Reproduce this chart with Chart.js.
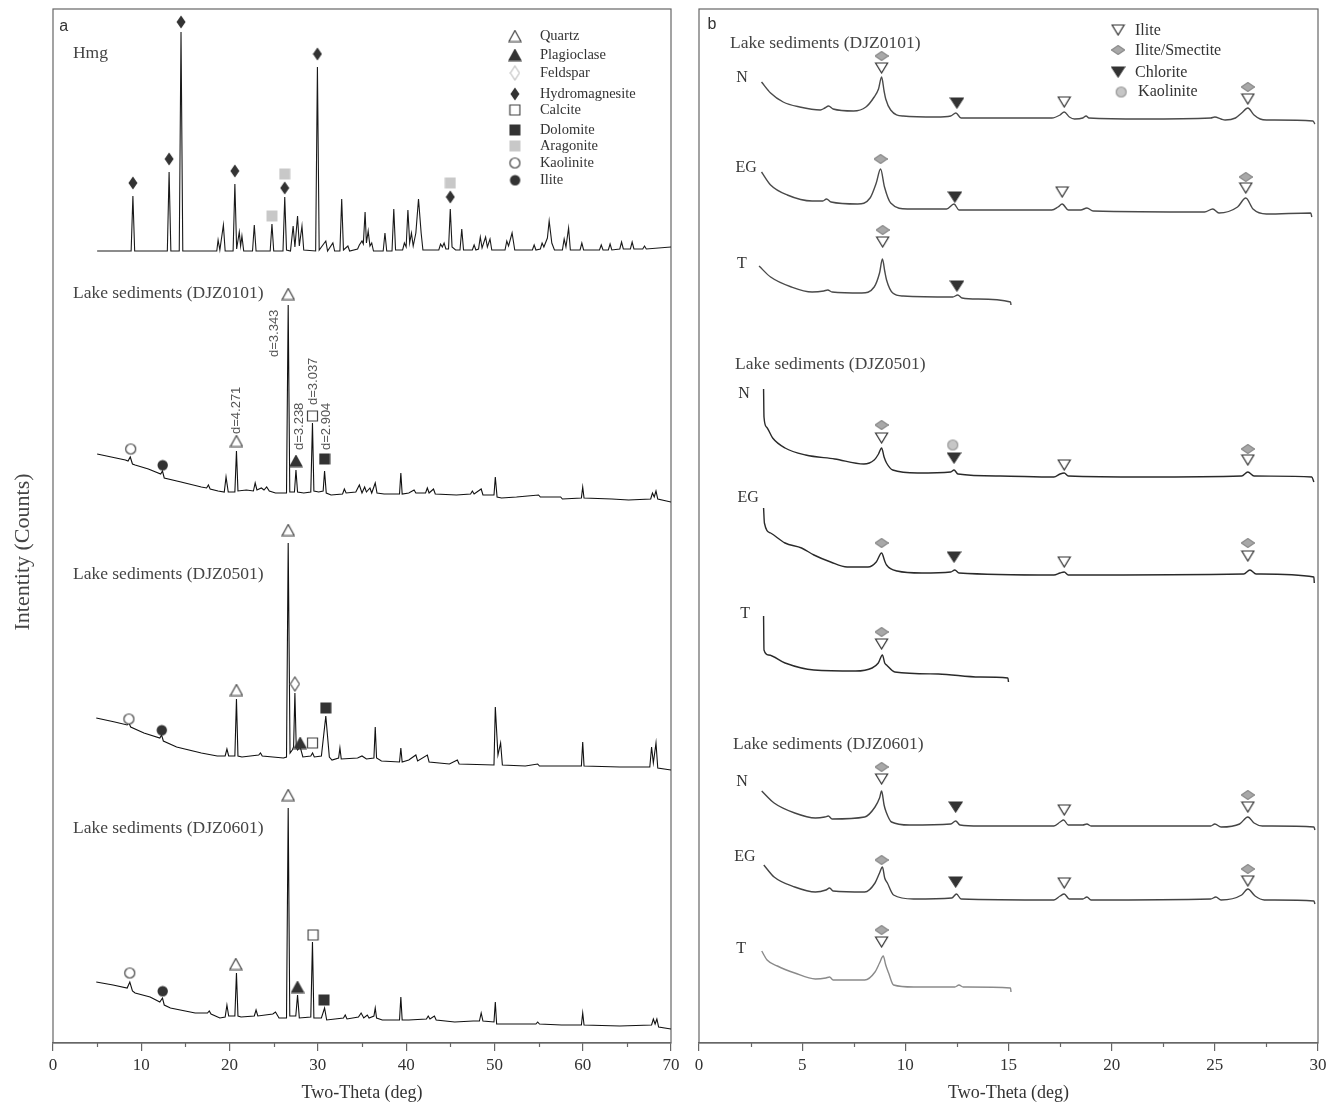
<!DOCTYPE html>
<html>
<head>
<meta charset="utf-8">
<script src="https://cdn.jsdelivr.net/npm/chart.js@4.4.1/dist/chart.umd.min.js"></script>
<style>
    body { margin: 0; background: #fff; }
    #wrapA { position: absolute; left: 0; top: 0; width: 690px; height: 1106px; }
    #wrapB { position: absolute; left: 690px; top: 0; width: 648px; height: 1106px; }
</style>
</head>
<body>
<div id="wrapA"><canvas id="chartA"></canvas></div>
<div id="wrapB"><canvas id="chartB"></canvas></div>
<script>
// ---- Panel a: bulk XRD patterns, [2-theta (deg), stacked intensity] ----
var hmgPattern = [[5,792],[8.85,792],[9.05,847],[9.25,792],[12.95,792],[13.15,871],[13.35,792],
    [14.3,792],[14.5,1011],[14.7,792],[18.55,792],[18.7,803],[18.9,793],[19.3,818],[19.5,792],
    [20.4,792],[20.6,859],[20.8,794],[21.1,811],[21.25,797],[21.4,807],[21.6,792],[22.6,792],[22.8,818],[23.0,792],
    [24.6,792],[24.8,819],[25.0,792],[26.05,792],[26.25,846],[26.45,793],[26.9,792],[27.2,817],[27.4,796],
    [27.7,827],[27.9,797],[28.2,817],[28.4,793],[29.75,792],[29.95,976],[30.15,793],[30.9,802],[31.1,792],
    [31.7,800],[31.9,792],[32.5,792],[32.7,844],[32.9,793],[33.4,797],[33.6,792],[34.5,794],[34.7,798],
    [35.0,802],[35.15,799],[35.35,831],[35.5,800],[35.7,812],[35.9,797],[36.1,800],[36.3,792],[37.4,792],
    [37.6,810],[37.8,792],[38.4,792],[38.6,834],[38.8,793],[39.6,793],[39.8,800],[40.0,796],[40.2,833],
    [40.4,800],[40.6,810],[40.8,797],[41.1,810],[41.4,844],[41.7,810],[41.9,793],[43.7,793],[43.9,799],
    [44.1,796],[44.3,800],[44.5,794],[44.8,794],[45.0,834],[45.2,796],[45.6,793],[46.1,793],[46.3,814],
    [46.5,793],[47.5,793],[47.7,798],[47.9,793],[48.2,794],[48.4,806],[48.6,795],[49.0,806],[49.2,796],
    [49.5,804],[49.7,793],[51.2,793],[51.4,802],[51.6,797],[52.0,810],[52.3,793],[54.3,793],[54.5,798],
    [54.7,793],[55.2,794],[55.4,800],[55.6,796],[56.0,805],[56.2,822],[56.5,800],[56.8,793],[57.7,793],
    [57.9,804],[58.1,796],[58.4,815],[58.6,793],[59.7,793],[59.9,800],[60.1,793],[61.9,793],[62.1,798],
    [62.3,793],[62.9,793],[63.1,799],[63.3,793],[64.2,794],[64.4,801],[64.6,794],[65.4,794],[65.6,801],
    [65.8,794],[66.8,794],[67.0,797],[67.2,794],[70,796]];

var djz0101Bulk = [[5.0,589],[6.6,586],[8.2,583],[8.5,582],[8.75,586],[9.0,579],[9.3,578],[10.8,574],
    [12.2,569],[12.4,572],[12.6,565],[14.5,561],[16.8,556],[17.4,555],[17.6,558],[17.8,554],[18.7,552],
    [19.4,551],[19.6,566],[19.85,551],[20.6,551],[20.78,592],[20.95,552],[21.9,553],[22.7,552],[22.9,560],
    [23.1,553],[23.6,555],[23.9,553],[24.2,556],[24.5,552],[25.2,550],[26.45,550],[26.64,738],[26.82,551],
    [27.35,551],[27.52,573],[27.7,551],[28.4,550],[29.2,551],[29.39,620],[29.55,552],[30.1,551],[30.6,552],
    [30.76,572],[30.95,550],[31.5,548],[32.8,549],[33.0,554],[33.2,550],[34.3,551],[34.7,558],[35.0,550],
    [35.3,556],[35.5,551],[35.9,555],[36.1,550],[36.5,560],[36.7,550],[37.5,549],[39.25,549],[39.4,570],
    [39.55,549],[40.3,550],[40.9,553],[41.1,550],[42.2,550],[42.4,555],[42.6,550],[43.1,554],[43.3,549],
    [45.7,548],[47.3,549],[47.5,552],[47.7,549],[48.5,554],[48.7,548],[49.95,548],[50.1,566],[50.3,546],
    [50.8,545],[52.5,546],[55.0,548],[55.2,546],[57.5,546],[57.7,544],[59.85,545],[60.0,556],[60.15,545],
    [63.3,544],[65.2,543],[67.7,544],[67.9,550],[68.1,546],[68.3,552],[68.5,544],[70,541]];

var djz0501Bulk = [[4.9,325],[7.0,321],[8.4,318],[8.6,320],[8.8,316],[10.3,310],[12.1,305],[12.3,308],
    [12.5,302],[14.0,296],[16.8,290],[18.6,287],[19.5,287],[19.7,294],[19.9,287],[20.6,287],[20.78,344],
    [20.95,287],[21.4,286],[23.3,288],[23.5,290],[23.7,287],[26.1,285],[26.45,286],[26.64,500],[26.85,290],
    [27.1,293],[27.25,296],[27.4,350],[27.55,296],[27.7,293],[28.0,296],[28.3,286],[29.2,287],[29.4,290],
    [29.6,286],[30.4,287],[30.9,327],[31.3,286],[31.6,283],[32.35,285],[32.5,295],[32.65,284],[34.5,285],
    [35.0,287],[35.5,284],[36.35,285],[36.5,316],[36.65,285],[37.2,282],[39.25,281],[39.4,295],[39.55,281],
    [40.3,283],[41.1,288],[41.3,282],[42.4,288],[42.6,281],[44.9,279],[45.8,283],[46.0,279],[49.95,278],
    [50.1,336],[50.4,288],[50.7,300],[50.9,278],[53.5,277],[54.9,279],[55.1,277],[59.85,277],[60.0,301],
    [60.15,277],[64.2,276],[67.6,276],[67.8,296],[68.0,280],[68.3,300],[68.5,275],[70,273]];

var djz0601Bulk = [[4.9,61],[6.8,58],[8.4,55],[8.7,61],[9.0,52],[9.3,50],[11.0,46],[12.1,41],[12.4,45],
    [12.6,38],[13.3,35],[16.1,30],[17.5,30],[17.7,32],[17.9,29],[18.9,25],[19.5,26],[19.7,38],[19.9,27],
    [20.6,27],[20.78,70],[20.95,27],[21.3,26],[22.8,27],[23.0,33],[23.2,27],[24.9,29],[25.2,31],[25.6,25],
    [26.45,25],[26.64,235],[26.82,27],[27.5,27],[27.7,48],[27.9,25],[29.2,26],[29.39,101],[29.55,25],
    [30.4,25],[30.76,35],[31.0,23],[32.9,25],[33.1,28],[33.3,24],[34.6,26],[34.9,30],[35.2,25],[35.6,28],
    [35.8,25],[36.35,27],[36.5,35],[36.65,25],[37.3,23],[39.25,23],[39.4,46],[39.55,23],[40.3,23],[42.3,24],
    [42.5,27],[42.7,24],[43.2,27],[43.4,23],[45.5,21],[47.6,22],[48.3,22],[48.5,30],[48.7,22],[49.95,21],
    [50.1,41],[50.25,19],[54.7,19],[54.9,21],[55.1,19],[57.6,18],[59.85,18],[60.0,30],[60.15,18],[64.2,17],
    [67.8,18],[68.0,24],[68.2,19],[68.4,24],[68.6,16],[70,14]];

// Panel a phase markers [2-theta, level]
var quartzMarks = [[20.78,602],[26.64,749],[20.78,353],[26.64,513],[20.7,79],[26.64,248]];
var plagioclaseMarks = [[27.52,582],[28.0,300],[27.7,56]];
var feldsparMarks = [[27.4,359]];
var hydromagnesiteMarks = [[9.05,860],[13.15,884],[14.5,1021],[20.6,872],[26.25,855],[29.95,989],[45.0,846]];
var calciteMarks = [[29.39,627],[29.4,300],[29.45,108]];
var dolomiteMarks = [[30.76,584],[30.9,335],[30.7,43]];
var aragoniteMarks = [[24.8,827],[26.25,869],[45.0,860]];
var kaoliniteMarks = [[8.8,594],[8.6,324],[8.7,70]];
var iliteMarks = [[12.4,578],[12.3,313],[12.4,52]];

// ---- Panel b: clay fraction patterns (N, EG, T) ----
var clay0101N = [[3.03,961],[3.47,950],[4.08,941],[4.88,936],[5.88,933],[6.1,935],[6.28,937],[6.5,934],
    [7.49,932],[8.09,936],[8.49,946],[8.7,954],[8.85,966],[8.97,952],[9.05,944],[9.29,933],[9.89,927],
    [11.5,926],[12.2,927],[12.45,930],[12.7,925],[13.5,925],[17.1,925],[17.5,928],[17.7,931],[17.95,926],
    [18.2,924],[18.6,925],[18.76,927],[18.9,925],[21.5,924],[24.8,925],[25.0,926],[25.3,924],[25.5,923],
    [26.0,925],[26.3,930],[26.6,935],[26.9,928],[27.2,924],[27.5,923],[29.75,922],[29.85,919]];
var clay0101EG = [[3.03,871],[3.47,858],[4.28,848],[5.48,842],[6.0,842],[6.18,844],[6.4,841],[7.69,839],
    [8.29,845],[8.59,860],[8.8,874],[8.99,856],[9.29,840],[10.1,834],[12.0,834],[12.36,839],[12.6,833],
    [17.1,833],[17.4,836],[17.6,839],[17.9,833],[18.5,833],[18.8,835],[19.1,832],[24.5,831],[24.9,834],
    [25.2,830],[26.1,836],[26.5,845],[26.85,834],[27.5,829],[29.65,830],[29.7,826]];
var clay0101T = [[2.91,777],[3.47,766],[4.48,756],[5.48,751],[6.05,752],[6.24,753],[6.45,751],[7.89,750],
    [8.49,756],[8.75,770],[8.89,784],[9.0,772],[9.09,763],[9.39,750],[9.89,747],[12.3,746],[12.54,748],
    [12.75,745],[13.5,744],[15.1,741],[15.12,738]];
var clay0501N = [[3.13,654],[3.15,626],[3.27,616],[3.57,605],[4.17,595],[5.17,588],[6.58,584],[7.99,579],
    [8.49,583],[8.7,589],[8.85,595],[8.97,586],[9.09,580],[9.39,573],[10.6,570],[12.2,571],[12.36,573],
    [12.55,569],[14.6,567],[17.2,566],[17.5,569],[17.7,570],[17.9,567],[21.6,566],[26.3,567],[26.6,571],
    [26.9,567],[29.7,566],[29.8,561]];
var clay0501EG = [[3.13,535],[3.17,520],[3.47,510],[4.17,500],[4.97,495],[5.57,488],[6.38,481],[7.18,476],
    [8.19,476],[8.59,481],[8.85,490],[9.0,482],[9.09,478],[9.6,472],[10.8,470],[12.2,471],[12.4,473],
    [12.6,470],[17.2,468],[17.5,470],[17.7,471],[17.9,468],[26.4,469],[26.7,473],[27.0,469],[29.8,466],[29.82,460]];
var clay0501T = [[3.13,427],[3.15,393],[3.37,388],[4.17,380],[5.57,373],[7.58,372],[8.39,375],[8.69,380],
    [8.89,388],[9.0,380],[9.09,378],[9.49,371],[11.6,369],[13.6,366],[14.97,365],[15.0,361]];
var clay0601N = [[3.04,252],[3.64,240],[4.64,230],[5.64,225],[6.1,226],[6.27,227],[6.45,224],[8.03,226],
    [8.53,236],[8.75,245],[8.85,252],[8.97,238],[9.07,231],[9.33,221],[10.2,218],[12.2,219],[12.44,222],
    [12.65,218],[13.6,217],[17.2,217],[17.5,221],[17.67,223],[17.9,218],[18.6,218],[18.8,219],[19.0,217],
    [24.8,217],[25.0,219],[25.3,216],[26.2,219],[26.6,226],[26.9,220],[27.3,217],[29.8,216],[29.85,213]];
var clay0601EG = [[3.14,178],[3.64,166],[4.64,156],[5.64,151],[6.15,153],[6.33,155],[6.5,152],[8.03,151],
    [8.53,160],[8.75,170],[8.89,176],[9.0,165],[9.13,160],[9.43,148],[10.4,144],[12.25,145],[12.48,149],
    [12.7,144],[17.2,143],[17.5,147],[17.7,149],[17.95,144],[18.6,144],[18.8,146],[19.0,143],[24.8,144],
    [25.05,146],[25.3,143],[26.3,148],[26.6,154],[26.95,147],[27.4,143],[29.8,142],[29.85,139]];
var clay0601T = [[3.04,92],[3.3,83],[3.8,77],[4.64,70],[5.64,64],[6.15,65],[6.33,66],[6.5,63],[8.03,63],
    [8.53,71],[8.75,80],[8.93,87],[9.05,78],[9.19,70],[9.43,58],[10.4,56],[12.4,56],[12.6,58],[12.8,56],
    [15.1,55],[15.12,51]];

// Panel b markers
var clayIliteMarks = [[8.85,975],[17.7,941],[26.6,944],[17.6,851],[26.5,855],[8.9,801],[8.85,605],[17.7,578],
    [26.6,583],[17.7,481],[26.6,487],[8.85,399],[8.85,264],[17.7,233],[26.6,236],[17.7,160],[26.6,162],[8.85,101]];
var clayIsMarks = [[8.85,987],[26.6,956],[8.8,884],[26.5,866],[8.9,813],[8.85,618],[26.6,594],[8.85,500],
    [26.6,500],[8.85,411],[8.85,276],[26.6,248],[8.85,183],[26.6,174],[8.85,113]];
var clayChloriteMarks = [[12.5,940],[12.4,846],[12.5,757],[12.36,585],[12.36,486],[12.44,236],[12.44,161]];
var clayKaoliniteMarks = [[12.3,598]];

// Tick labels
var ticksA = [0, 10, 20, 30, 40, 50, 60, 70];
var minorA = [5, 15, 25, 35, 45, 55, 65];
var ticksB = [0, 5, 10, 15, 20, 25, 30];
var minorB = [2.5, 7.5, 12.5, 17.5, 22.5, 27.5];

var legendA = ['Quartz', 'Plagioclase', 'Feldspar', 'Hydromagnesite', 'Calcite', 'Dolomite', 'Aragonite', 'Kaolinite', 'Ilite'];
var legendB = ['Ilite', 'Ilite/Smectite', 'Chlorite', 'Kaolinite'];

var SERIF = '"Liberation Serif", "Times New Roman", serif';

// Marker glyphs drawn on small canvases
function makeMark(w, h, draw) {
    var c = document.createElement('canvas');
    c.width = w;
    c.height = h;
    var g = c.getContext('2d');
    g.lineWidth = 1.2;
    draw(g);
    return c;
}
function poly(pts, fill, stroke) {
    return function(g) {
        g.beginPath();
        g.moveTo(pts[0][0], pts[0][1]);
        for (var i = 1; i < pts.length; i++) g.lineTo(pts[i][0], pts[i][1]);
        g.closePath();
        if (fill) { g.fillStyle = fill; g.fill(); }
        if (stroke) { g.strokeStyle = stroke; g.stroke(); }
    };
}
function circ(r, fill, stroke) {
    return function(g) {
        g.beginPath();
        g.arc(r + 1.5, r + 1.5, r, 0, Math.PI * 2);
        if (fill) { g.fillStyle = fill; g.fill(); }
        if (stroke) { g.strokeStyle = stroke; g.stroke(); }
    };
}
var M = {
    triUp: makeMark(14, 13, poly([[7,1],[13,12],[1,12]], '#fff', '#444')),
    triUpFill: makeMark(14, 13, poly([[7,1],[13,12],[1,12]], '#333', '#333')),
    diaOpen: makeMark(11, 16, poly([[5.5,1],[10,8],[5.5,15],[1,8]], '#fff', '#555')),
    diaLight: makeMark(11, 16, poly([[5.5,1],[10,8],[5.5,15],[1,8]], '#fff', '#c4c4c4')),
    diaFill: makeMark(10, 14, poly([[5,0.5],[9.5,7],[5,13.5],[0.5,7]], '#333', null)),
    sqOpen: makeMark(13, 13, poly([[1.5,1.5],[11.5,1.5],[11.5,11.5],[1.5,11.5]], '#fff', '#444')),
    sqFill: makeMark(12, 12, poly([[0.5,0.5],[11.5,0.5],[11.5,11.5],[0.5,11.5]], '#333', null)),
    sqGray: makeMark(12, 12, poly([[0.5,0.5],[11.5,0.5],[11.5,11.5],[0.5,11.5]], '#c8c8c8', null)),
    circOpen: makeMark(13, 13, circ(5, '#fff', '#444')),
    circFill: makeMark(13, 13, circ(5.2, '#333', null)),
    triDown: makeMark(15, 12, poly([[1.5,1],[13.5,1],[7.5,11]], '#fff', '#333')),
    triDownFill: makeMark(15, 12, poly([[1,1],[14,1],[7.5,11]], '#333', '#333')),
    isDia: makeMark(14, 10, poly([[7,0.5],[13.5,5],[7,9.5],[0.5,5]], '#a8a8a8', '#8c8c8c')),
    kaolB: makeMark(13, 13, circ(5, '#c6c6c6', '#999'))
};

function xy(arr) {
    return arr.map(function(p) { return { x: p[0], y: p[1] }; });
}
function trace(arr, color, width, smooth) {
    return {
        type: 'line', data: xy(arr), borderColor: color, borderWidth: width,
        pointRadius: 0, fill: false, tension: 0, order: 2,
        cubicInterpolationMode: smooth ? 'monotone' : 'default'
    };
}
function marks(arr, glyph) {
    return { type: 'scatter', data: xy(arr), pointStyle: glyph, pointRadius: 5, order: 1 };
}

// Frame, minor ticks and free text
var decorPlugin = {
    id: 'decor',
    beforeDatasetsDraw: function(chart, args, opts) {
        var a = chart.chartArea, ctx = chart.ctx, xs = chart.scales.x;
        ctx.save();
        ctx.strokeStyle = '#666';
        ctx.lineWidth = 1.2;
        ctx.strokeRect(a.left, a.top, a.right - a.left, a.bottom - a.top);
        opts.minor.forEach(function(v) {
            var px = Math.round(xs.getPixelForValue(v)) + 0.5;
            ctx.beginPath();
            ctx.moveTo(px, a.bottom);
            ctx.lineTo(px, a.bottom + 4);
            ctx.stroke();
        });
        ctx.restore();
    },
    afterDatasetsDraw: function(chart, args, opts) {
        var ctx = chart.ctx, xs = chart.scales.x, ys = chart.scales.y;
        opts.texts.forEach(function(t) {
            ctx.save();
            ctx.font = t.font;
            ctx.fillStyle = t.color || '#333';
            ctx.textAlign = t.align || 'left';
            ctx.textBaseline = 'middle';
            var px = t.pixel ? t.x : xs.getPixelForValue(t.x);
            var py = t.pixel ? t.y : ys.getPixelForValue(t.y);
            ctx.translate(px, py);
            if (t.rotate) ctx.rotate(-Math.PI / 2);
            ctx.fillText(t.text, 0, 0);
            ctx.restore();
        });
    }
};

function xAxis(max, ticks) {
    return {
        type: 'linear', min: 0, max: max,
        afterBuildTicks: function(axis) { axis.ticks = ticks.map(function(v) { return { value: v }; }); },
        afterFit: function(axis) { axis.height = 63; },
        grid: { drawOnChartArea: false, drawTicks: true, tickLength: 8, color: '#666', lineWidth: 1.2 },
        border: { display: true, color: '#666', width: 1.2 },
        ticks: { color: '#333', font: { family: SERIF, size: 17 }, padding: 4, maxRotation: 0, autoSkip: false },
        title: { display: true, text: 'Two-Theta (deg)', color: '#333', font: { family: SERIF, size: 18 }, padding: { top: 0, bottom: 2 } }
    };
}

var labelFont = '17.5px ' + SERIF;
var textsA = [
    { text: 'a', x: 1.2, y: 1016, font: '16px "Liberation Sans", Arial, sans-serif', align: 'center' },
    { text: 'Hmg', x: 2.26, y: 990, font: labelFont, color: '#444' },
    { text: 'Lake sediments (DJZ0101)', x: 2.26, y: 750, font: labelFont, color: '#444' },
    { text: 'Lake sediments (DJZ0501)', x: 2.26, y: 469, font: labelFont, color: '#444' },
    { text: 'Lake sediments (DJZ0601)', x: 2.26, y: 215, font: labelFont, color: '#444' },
    { text: 'Intentity (Counts)', x: 23, y: 552, pixel: true, rotate: true, align: 'center', font: '22px ' + SERIF, color: '#444' }
];
var dFont = '13px "Liberation Sans", Arial, sans-serif';
[['d=4.271', 20.78, 609], ['d=3.343', 25.1, 686], ['d=3.238', 27.95, 593], ['d=3.037', 29.5, 638], ['d=2.904', 31.0, 593]].forEach(function(d) {
    textsA.push({ text: d[0], x: d[1], y: d[2], rotate: true, font: dFont, color: '#555' });
});
var legendARows = [1007, 988, 970, 949, 933, 913, 897, 880, 863];
legendA.forEach(function(name, i) {
    textsA.push({ text: name, x: 55.15, y: legendARows[i], font: '14.5px ' + SERIF, color: '#333' });
});

var textsB = [
    { text: 'b', x: 0.63, y: 1018, font: '16px "Liberation Sans", Arial, sans-serif', align: 'center' },
    { text: 'Lake sediments (DJZ0101)', x: 1.5, y: 1000, font: labelFont, color: '#444' },
    { text: 'Lake sediments (DJZ0501)', x: 1.75, y: 679, font: labelFont, color: '#444' },
    { text: 'Lake sediments (DJZ0601)', x: 1.65, y: 299, font: labelFont, color: '#444' }
];
[['N', 2.08, 965], ['EG', 2.28, 875], ['T', 2.08, 779], ['N', 2.18, 649], ['EG', 2.38, 545], ['T', 2.23, 429],
 ['N', 2.08, 261], ['EG', 2.23, 186], ['T', 2.04, 94]].forEach(function(s) {
    textsB.push({ text: s[0], x: s[1], y: s[2], align: 'center', font: '16px ' + SERIF, color: '#333' });
});
var legendBRows = [1012, 992, 970, 951];
legendB.forEach(function(name, i) {
    textsB.push({ text: name, x: i === 3 ? 21.28 : 21.13, y: legendBRows[i], font: '16px ' + SERIF, color: '#333' });
});

Chart.defaults.animation = false;

new Chart(document.getElementById('chartA'), {
    type: 'line',
    data: {
        datasets: [
            trace(hmgPattern, '#1a1a1a', 1.1, false),
            trace(djz0101Bulk, '#111', 1.1, false),
            trace(djz0501Bulk, '#111', 1.1, false),
            trace(djz0601Bulk, '#111', 1.1, false),
            marks(quartzMarks, M.triUp),
            marks(plagioclaseMarks, M.triUpFill),
            marks(feldsparMarks, M.diaOpen),
            marks(hydromagnesiteMarks, M.diaFill),
            marks(calciteMarks, M.sqOpen),
            marks(dolomiteMarks, M.sqFill),
            marks(aragoniteMarks, M.sqGray),
            marks(kaoliniteMarks, M.circOpen),
            marks(iliteMarks, M.circFill),
            {
                type: 'scatter', order: 1, pointRadius: 5,
                data: xy(legendARows.map(function(r) { return [52.32, r]; })),
                pointStyle: [M.triUp, M.triUpFill, M.diaLight, M.diaFill, M.sqOpen, M.sqFill, M.sqGray, M.circOpen, M.circFill]
            }
        ]
    },
    options: {
        responsive: true, maintainAspectRatio: false, events: [],
        layout: { padding: { left: 53, right: 19, top: 9, bottom: 0 } },
        scales: { x: xAxis(70, ticksA), y: { display: false, min: 0, max: 1034 } },
        plugins: { legend: { display: false }, tooltip: { enabled: false }, decor: { minor: minorA, texts: textsA } }
    },
    plugins: [decorPlugin]
});

new Chart(document.getElementById('chartB'), {
    type: 'line',
    data: {
        datasets: [
            trace(clay0101N, '#4a4a4a', 1.4, true),
            trace(clay0101EG, '#4a4a4a', 1.4, true),
            trace(clay0101T, '#4a4a4a', 1.4, true),
            trace(clay0501N, '#2a2a2a', 1.4, true),
            trace(clay0501EG, '#2a2a2a', 1.4, true),
            trace(clay0501T, '#2a2a2a', 1.4, true),
            trace(clay0601N, '#444', 1.4, true),
            trace(clay0601EG, '#444', 1.4, true),
            trace(clay0601T, '#8a8a8a', 1.4, true),
            marks(clayIliteMarks, M.triDown),
            marks(clayIsMarks, M.isDia),
            marks(clayChloriteMarks, M.triDownFill),
            marks(clayKaoliniteMarks, M.kaolB),
            {
                type: 'scatter', order: 1, pointRadius: 5,
                data: xy([[20.31, 1013], [20.31, 993], [20.31, 971], [20.46, 951]]),
                pointStyle: [M.triDown, M.isDia, M.triDownFill, M.kaolB]
            }
        ]
    },
    options: {
        responsive: true, maintainAspectRatio: false, events: [],
        layout: { padding: { left: 9, right: 20, top: 9, bottom: 0 } },
        scales: { x: xAxis(30, ticksB), y: { display: false, min: 0, max: 1034 } },
        plugins: { legend: { display: false }, tooltip: { enabled: false }, decor: { minor: minorB, texts: textsB } }
    },
    plugins: [decorPlugin]
});
</script>
</body>
</html>
